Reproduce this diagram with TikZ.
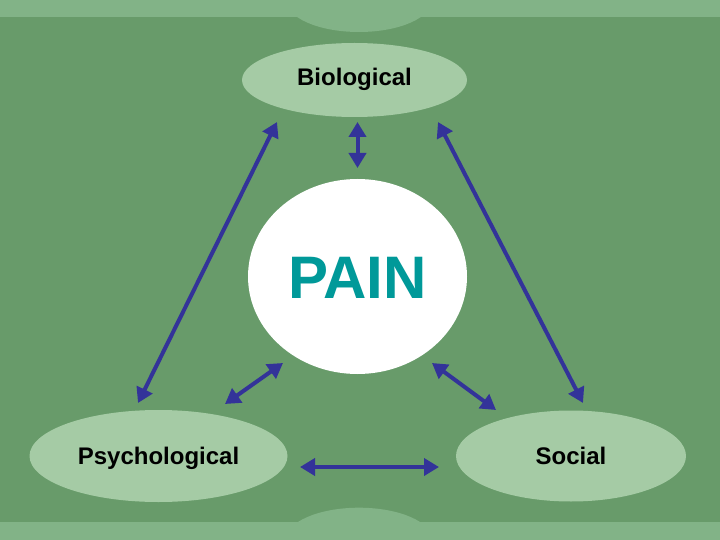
\documentclass[tikz,border=0pt]{standalone}
\usepackage{fontspec}
\setmainfont{Liberation Sans}
\usetikzlibrary{shapes.geometric,arrows.meta}
\definecolor{bgc}{HTML}{689B6A}
\definecolor{bandc}{HTML}{82B387}
\definecolor{ovalc}{HTML}{A5CBA5}
\definecolor{arrc}{HTML}{333399}
\definecolor{painc}{HTML}{009999}
\begin{document}
\begin{tikzpicture}[x=1pt,y=-1pt,
  ovalnode/.style={ellipse, fill=ovalc, inner sep=0pt,
    font=\fontsize{24}{28}\selectfont\bfseries, text=black,
    text height=17.2pt, text depth=0pt},
  painnode/.style={ellipse, fill=white, inner sep=0pt,
    font=\fontsize{60}{70}\selectfont\bfseries, text=painc,
    text height=43pt, text depth=0pt},
  link/.style={draw=arrc, line width=4pt,
    {Triangle[length=15pt,width=17pt]}-{Triangle[length=15pt,width=17pt]}}]
\useasboundingbox (0,0) rectangle (720,540);
\fill[bgc] (0,0) rectangle (720,540);
\fill[bandc] (0,0) rectangle (720,17.5);
\fill[bandc] (0,522) rectangle (720,540);
\fill[bandc] (359,0) ellipse [x radius=73pt, y radius=32pt];
\fill[bandc] (359,540) ellipse [x radius=73.5pt, y radius=32.3pt];

\node[ovalnode, minimum width=225pt, minimum height=74pt, text depth=5.6pt] (bio) at (354.5,80) {Biological};
\node[ovalnode, minimum width=258pt, minimum height=92pt] (psy) at (158.5,456) {Psychological};
\node[ovalnode, minimum width=230pt, minimum height=91pt] (soc) at (571,456) {Social};
\node[painnode, minimum width=219pt, minimum height=195pt] (pain) at (357.5,276.5) {PAIN};

\coordinate (bioV) at (357.5,122);
\coordinate (painV) at (357.5,168);
\coordinate (bioL) at (277,122);
\coordinate (psyL) at (138,403);
\coordinate (bioR) at (438,122);
\coordinate (socR) at (583,403);
\coordinate (painPL) at (283,363);
\coordinate (psyP) at (225,404);
\coordinate (painPR) at (432,363);
\coordinate (socP) at (496,410);
\coordinate (psyH) at (300,467);
\coordinate (socH) at (439,467);

\draw[link] (bioV) -- (painV);
\draw[link] (bioL) -- (psyL);
\draw[link] (bioR) -- (socR);
\draw[link] (painPL) -- (psyP);
\draw[link] (painPR) -- (socP);
\draw[link] (psyH) -- (socH);
\end{tikzpicture}
\end{document}
